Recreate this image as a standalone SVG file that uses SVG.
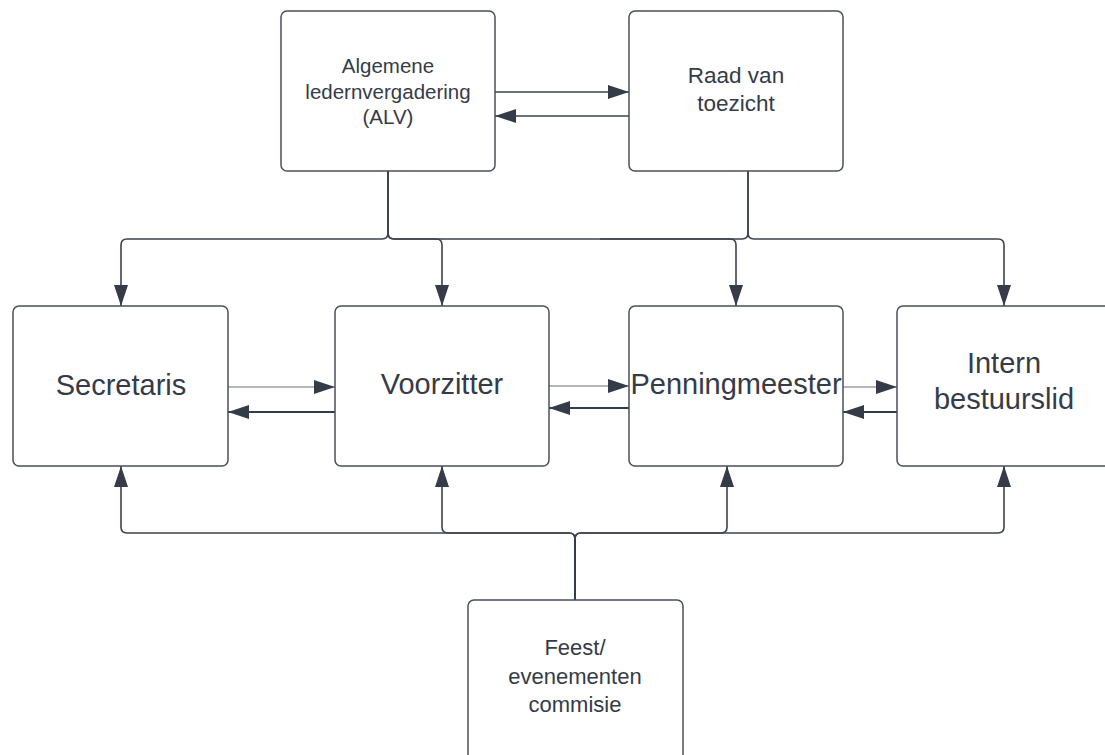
<svg xmlns="http://www.w3.org/2000/svg" width="1105" height="755" viewBox="0 0 1105 755">
<style>
.box{fill:#ffffff;stroke:#4a4f59;stroke-width:1.5}
.t{font-family:"Liberation Sans",Arial,sans-serif;fill:#353b47;text-anchor:middle}
.c{fill:none;stroke:#3d434e;stroke-width:1.6}
.thin{fill:none;stroke:#6a6f78;stroke-width:1}
.thick{fill:none;stroke:#353b47;stroke-width:2}
</style>
<defs>
<marker id="ah" markerUnits="userSpaceOnUse" markerWidth="22" markerHeight="14" refX="21" refY="7" orient="auto">
<path d="M0,0 L21,7 L0,14 Z" fill="#353b47"/>
</marker>
</defs>
<rect width="1105" height="755" fill="#ffffff"/>
<g id="connectors">
<path class="c" d="M388,171 V233 Q388,239 382,239 H127 Q121,239 121,245 V306" marker-end="url(#ah)"/>
<path class="c" d="M388,171 V233 Q388,239 394,239 H436 Q442,239 442,245 V306" marker-end="url(#ah)"/>
<path class="c" d="M388,171 V233 Q388,239 394,239 H730 Q736,239 736,245 V306" marker-end="url(#ah)"/>
<path class="c" d="M748,171 V233 Q748,239 742,239 H600"/>
<path class="c" d="M748,171 V233 Q748,239 754,239 H998 Q1004,239 1004,245 V306" marker-end="url(#ah)"/>
<path class="c" d="M495,92 H629" marker-end="url(#ah)"/>
<path class="c" d="M629,116 H495" marker-end="url(#ah)"/>
<path class="thin" d="M228,387 H335" marker-end="url(#ah)"/>
<path class="thick" d="M335,412 H228" marker-end="url(#ah)"/>
<path class="thin" d="M549,386 H629" marker-end="url(#ah)"/>
<path class="thick" d="M629,408 H549" marker-end="url(#ah)"/>
<path class="thin" d="M843,387 H897" marker-end="url(#ah)"/>
<path class="thick" d="M897,412 H843" marker-end="url(#ah)"/>
<path class="c" d="M575,600 V539 Q575,533 569,533 H127 Q121,533 121,527 V466" marker-end="url(#ah)"/>
<path class="c" d="M575,600 V539 Q575,533 569,533 H448 Q442,533 442,527 V466" marker-end="url(#ah)"/>
<path class="c" d="M575,600 V539 Q575,533 581,533 H721 Q727,533 727,527 V466" marker-end="url(#ah)"/>
<path class="c" d="M575,600 V539 Q575,533 581,533 H998 Q1004,533 1004,527 V466" marker-end="url(#ah)"/>
<path class="thick" d="M575,600 V540"/>
</g>
<g id="alv">
<rect class="box" x="281" y="11" width="214" height="160" rx="6"/>
<text class="t" font-size="20.5"><tspan x="388" y="72.5">Algemene</tspan><tspan x="388" y="98.5">ledernvergadering</tspan><tspan x="388" y="124">(ALV)</tspan></text>
</g>
<g id="raad">
<rect class="box" x="629" y="11" width="214" height="160" rx="6"/>
<text class="t" font-size="22.5"><tspan x="736" y="83">Raad van</tspan><tspan x="736" y="111">toezicht</tspan></text>
</g>
<g id="secretaris">
<rect class="box" x="13" y="306" width="215" height="160" rx="6"/>
<text class="t" font-size="29" x="121" y="395">Secretaris</text>
</g>
<g id="voorzitter">
<rect class="box" x="335" y="306" width="214" height="160" rx="6"/>
<text class="t" font-size="29" x="442" y="394">Voorzitter</text>
</g>
<g id="penningmeester">
<rect class="box" x="629" y="306" width="214" height="160" rx="6"/>
<text class="t" font-size="29" x="736" y="394">Penningmeester</text>
</g>
<g id="intern">
<rect class="box" x="897" y="306" width="214" height="160" rx="6"/>
<text class="t" font-size="29"><tspan x="1004" y="373">Intern</tspan><tspan x="1004" y="409">bestuurslid</tspan></text>
</g>
<g id="feest">
<rect class="box" x="468" y="600" width="215" height="170" rx="6"/>
<text class="t" font-size="22"><tspan x="575" y="655">Feest/</tspan><tspan x="575" y="684">evenementen</tspan><tspan x="575" y="712">commisie</tspan></text>
</g>
</svg>
